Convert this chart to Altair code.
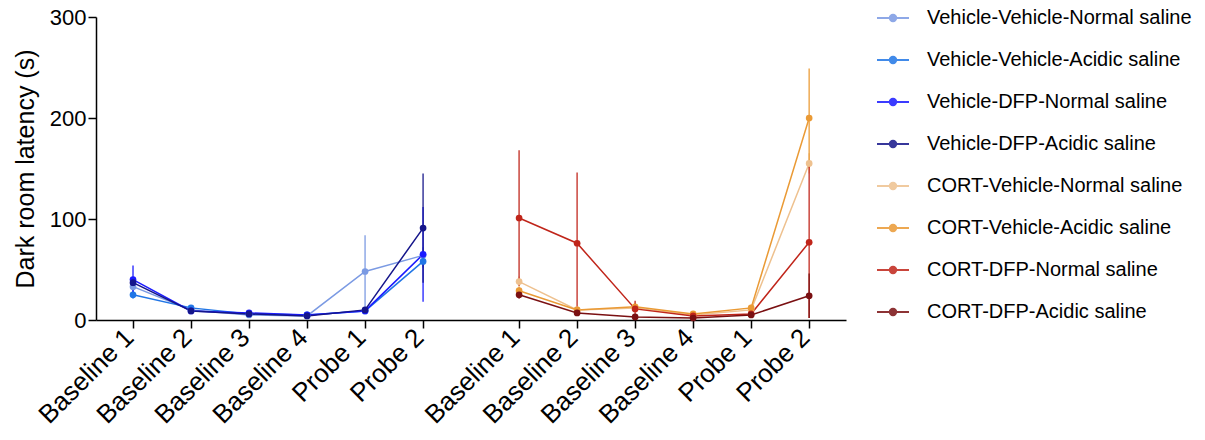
import altair as alt
import pandas as pd

timepoints = ["Baseline 1", "Baseline 2", "Baseline 3", "Baseline 4", "Probe 1", "Probe 2"]

groups = [
    "Vehicle-Vehicle-Normal saline",
    "Vehicle-Vehicle-Acidic saline",
    "Vehicle-DFP-Normal saline",
    "Vehicle-DFP-Acidic saline",
    "CORT-Vehicle-Normal saline",
    "CORT-Vehicle-Acidic saline",
    "CORT-DFP-Normal saline",
    "CORT-DFP-Acidic saline",
]
colors = ["#7b9ae3", "#2176e6", "#1a1aff", "#15158a",
          "#eec18f", "#ea9a35", "#c0251a", "#7a1012"]

# panel of each group: 0 = left (Vehicle), 1 = right (CORT)
panel = [0, 0, 0, 0, 1, 1, 1, 1]

means = [
    [33, 10, 5, 4, 48, 64],
    [25, 12, 6, 5, 9, 58],
    [40, 9, 7, 5, 9, 65],
    [37, 9, 6, 4, 10, 91],
    [38, 10, 12, 5, 10, 155],
    [29, 10, 13, 6, 12, 200],
    [101, 76, 11, 4, 6, 77],
    [25, 7, 3, 2, 5, 24],
]
errors = [
    [5, 2, 2, 1, 36, 8],
    [4, 2, 1, 1, 2, 6],
    [14, 2, 2, 1, 2, 47],
    [5, 2, 2, 1, 2, 54],
    [5, 2, 3, 1, 2, 10],
    [4, 2, 4, 1, 3, 49],
    [67, 70, 8, 1, 2, 75],
    [4, 2, 1, 1, 1, 22],
]

PANEL_OFFSET = 6.655  # gap between the two panels, in category steps

rows = []
for g, p, m, e in zip(groups, panel, means, errors):
    for i, t in enumerate(timepoints):
        rows.append({
            "group": g,
            "timepoint": t,
            "x": i + p * PANEL_OFFSET,
            "mean": m[i],
            "lo": max(m[i] - e[i], 0),
            "hi": m[i] + e[i],
        })
df = pd.DataFrame(rows)

tick_vals = [i + p * PANEL_OFFSET for p in (0, 1) for i in range(len(timepoints))]
label_arr = "[" + ",".join("'" + t + "'" for t in timepoints) + "]"
label_expr = (f"datum.value < 6 ? {label_arr}[round(datum.value)] : "
              f"{label_arr}[round(datum.value - {PANEL_OFFSET})]")

FONT = "Liberation Sans"

x_enc = alt.X("x:Q",
              scale=alt.Scale(domain=[-0.638, 12.29], nice=False, zero=False),
              axis=alt.Axis(values=tick_vals, labelExpr=label_expr, title=None,
                            labelAngle=-45, labelAlign="right", labelBaseline="middle",
                            labelFontSize=26, labelPadding=5, labelOffset=-4, tickSize=8,
                            labelFont=FONT, labelColor="black",
                            domainColor="black", tickColor="black",
                            domainWidth=1.5, tickWidth=1.5, grid=False,
                            labelOverlap=False))
y_enc = alt.Y("mean:Q",
              scale=alt.Scale(domain=[0, 300], nice=False),
              axis=alt.Axis(values=[0, 100, 200, 300], title="Dark room latency (s)",
                            titleFontSize=25, titleFont=FONT, titleFontWeight="normal",
                            titleColor="black", titlePadding=11,
                            labelFontSize=22, labelFont=FONT, labelColor="black",
                            tickSize=8, domainColor="black", tickColor="black",
                            domainWidth=1.5, tickWidth=1.5, grid=False))
color_enc = alt.Color(
    "group:N", scale=alt.Scale(domain=groups, range=colors), sort=groups,
    legend=alt.Legend(
        title=None, orient="none", legendX=780, legendY=-16,
        symbolType="M-1,0L1,0M-0.2,0A0.2,0.2,0,1,1,0.2,0A0.2,0.2,0,1,1,-0.2,0Z",
        symbolSize=1024, symbolStrokeWidth=2,
        labelFontSize=20, labelFont=FONT, labelColor="black",
        labelOffset=17, rowPadding=15, labelLimit=400))

base = alt.Chart(df)

rules = base.mark_rule(strokeWidth=1.5, opacity=0.85).encode(
    x=x_enc, y=alt.Y("lo:Q"), y2="hi:Q", color=color_enc,
)

lines = base.mark_line(strokeWidth=1.5).encode(
    x=x_enc, y=y_enc, color=color_enc, detail="group:N",
)

points = base.mark_point(filled=True, size=45, opacity=1).encode(
    x=x_enc, y="mean:Q", color=color_enc,
)

chart = alt.layer(lines, rules, points).properties(
    width=750, height=303,
    autosize=alt.AutoSizeParams(type="none"),
    padding={"left": 88, "top": 9, "right": 350, "bottom": 110},
).configure(font=FONT).configure_view(stroke="transparent", strokeWidth=0)

chart.save("out.html", embed_options={"renderer": "svg", "actions": False})
